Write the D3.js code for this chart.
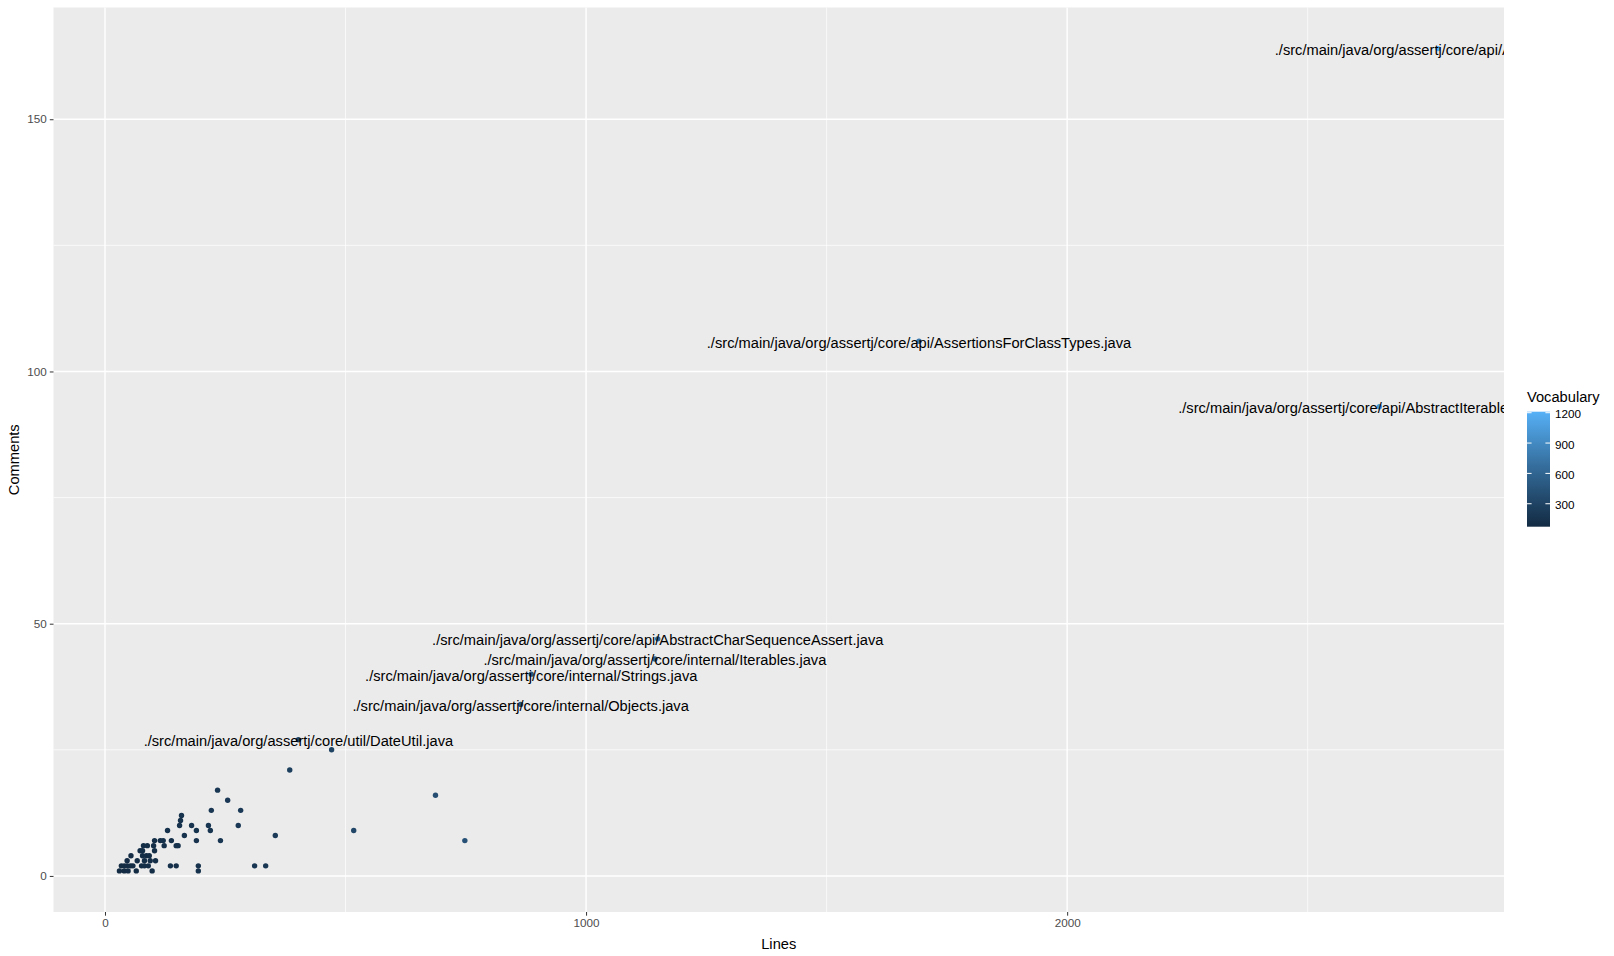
<!DOCTYPE html>
<html>
<head>
<meta charset="utf-8">
<script src="https://cdn.jsdelivr.net/npm/d3@7"></script>
<style>
  body { margin: 0; background: #fff; }
  text { font-family: "Liberation Sans", Arial, sans-serif; }
</style>
</head>
<body>
<svg id="chart"></svg>
<script>
// one entry per file: lines of code, comment count, vocabulary, label (only files with many comments)
const lines = [234, 255, 221, 282, 159, 157, 155, 180, 215, 277, 130, 190, 219, 354, 165,
  103, 115, 121, 138, 190, 240, 80, 88, 101, 123, 148, 152, 73, 78, 103,
  54, 78, 86, 92, 46, 67, 82, 94, 105, 34, 40, 46, 53, 58, 76,
  82, 90, 136, 148, 194, 311, 334, 30, 40, 48, 65, 98, 194, 471, 384,
  687, 517, 748,
  402, 864, 886, 1143, 1149, 1692, 2649, 2771];
const comments = [17, 15, 13, 13, 12, 11, 10, 10, 10, 10, 9, 9, 9, 8, 8,
  7, 7, 7, 7, 7, 7, 6, 6, 6, 6, 6, 6, 5, 5, 5,
  4, 4, 4, 4, 3, 3, 3, 3, 3, 2, 2, 2, 2, 2, 2,
  2, 2, 2, 2, 2, 2, 2, 1, 1, 1, 1, 1, 1, 25, 21,
  16, 9, 7,
  27, 34, 40, 43, 47, 106, 93, 164];
const vocab = [190, 200, 180, 210, 150, 145, 140, 160, 170, 200, 130, 155, 165, 230, 140,
  110, 115, 120, 125, 150, 175, 100, 105, 110, 120, 130, 135, 95, 100, 110,
  90, 100, 100, 105, 85, 95, 100, 105, 110, 80, 82, 85, 88, 90, 95,
  100, 100, 120, 125, 140, 170, 180, 73, 80, 85, 90, 100, 130, 300, 260,
  400, 330, 420,
  300, 460, 500, 540, 600, 760, 1040, 1210];
const files = new Array(63).fill("").concat([
  "./src/main/java/org/assertj/core/util/DateUtil.java",
  "./src/main/java/org/assertj/core/internal/Objects.java",
  "./src/main/java/org/assertj/core/internal/Strings.java",
  "./src/main/java/org/assertj/core/internal/Iterables.java",
  "./src/main/java/org/assertj/core/api/AbstractCharSequenceAssert.java",
  "./src/main/java/org/assertj/core/api/AssertionsForClassTypes.java",
  "./src/main/java/org/assertj/core/api/AbstractIterableAssert.java",
  "./src/main/java/org/assertj/core/api/Assertions.java"
]);

const xMajor = [0, 1000, 2000];
const xMinor = [500, 1500, 2500];
const yMajor = [0, 50, 100, 150];
const yMinor = [25, 75, 125];
const vocabTicks = [300, 600, 900, 1200];

const data = lines.map((d, i) => ({lines: d, comments: comments[i], vocab: vocab[i], file: files[i]}));

const W = 1614, H = 956;
const panel = {left: 53.5, top: 7.5, right: 1504, bottom: 912};

const svg = d3.select("#chart").attr("width", W).attr("height", H);

// ggplot style 5% expansion
function expand(ext) {
  const pad = (ext[1] - ext[0]) * 0.05;
  return [ext[0] - pad, ext[1] + pad];
}

const x = d3.scaleLinear()
  .domain(expand(d3.extent(data, d => d.lines)))
  .range([panel.left, panel.right]);
const y = d3.scaleLinear()
  .domain(expand(d3.extent(data, d => d.comments)))
  .range([panel.bottom, panel.top]);
const color = d3.scaleLinear()
  .domain(d3.extent(data, d => d.vocab))
  .range(["#132B43", "#56B1F7"])
  .interpolate(d3.interpolateLab);

svg.append("defs").append("clipPath")
  .attr("id", "clip-panel")
  .append("rect")
  .attr("x", panel.left).attr("y", panel.top)
  .attr("width", panel.right - panel.left)
  .attr("height", panel.bottom - panel.top);

svg.append("rect")
  .attr("x", panel.left).attr("y", panel.top)
  .attr("width", panel.right - panel.left)
  .attr("height", panel.bottom - panel.top)
  .attr("fill", "#EBEBEB");

const grid = svg.append("g").attr("stroke", "#fff");
grid.selectAll(".xmin").data(xMinor).enter().append("line")
  .attr("x1", d => x(d)).attr("x2", d => x(d))
  .attr("y1", panel.top).attr("y2", panel.bottom).attr("stroke-width", 0.7);
grid.selectAll(".ymin").data(yMinor).enter().append("line")
  .attr("y1", d => y(d)).attr("y2", d => y(d))
  .attr("x1", panel.left).attr("x2", panel.right).attr("stroke-width", 0.7);
grid.selectAll(".xmaj").data(xMajor).enter().append("line")
  .attr("x1", d => x(d)).attr("x2", d => x(d))
  .attr("y1", panel.top).attr("y2", panel.bottom).attr("stroke-width", 1.4);
grid.selectAll(".ymaj").data(yMajor).enter().append("line")
  .attr("y1", d => y(d)).attr("y2", d => y(d))
  .attr("x1", panel.left).attr("x2", panel.right).attr("stroke-width", 1.4);

// axes
const xAxis = d3.axisBottom(x).tickValues(xMajor).tickFormat(d3.format("d")).tickSize(3.7).tickPadding(3);
const yAxis = d3.axisLeft(y).tickValues(yMajor).tickFormat(d3.format("d")).tickSize(3.7).tickPadding(3);

svg.append("g")
  .attr("transform", `translate(0,${panel.bottom})`)
  .call(xAxis)
  .call(g => g.select(".domain").remove())
  .call(g => g.selectAll("line").attr("stroke", "#333").attr("stroke-width", 1))
  .call(g => g.selectAll("text").attr("fill", "#4D4D4D").style("font-size", "11.7px")
    .style("font-family", "Liberation Sans, Arial, sans-serif"));

svg.append("g")
  .attr("transform", `translate(${panel.left},0)`)
  .call(yAxis)
  .call(g => g.select(".domain").remove())
  .call(g => g.selectAll("line").attr("stroke", "#333").attr("stroke-width", 1))
  .call(g => g.selectAll("text").attr("fill", "#4D4D4D").style("font-size", "11.7px")
    .style("font-family", "Liberation Sans, Arial, sans-serif"));

svg.append("text")
  .attr("x", (panel.left + panel.right) / 2)
  .attr("y", 949)
  .attr("text-anchor", "middle")
  .style("font-size", "14.67px")
  .text("Lines");

svg.append("text")
  .attr("transform", `translate(19,${(panel.top + panel.bottom) / 2})rotate(-90)`)
  .attr("text-anchor", "middle")
  .style("font-size", "14.67px")
  .text("Comments");

// points and labels
const plot = svg.append("g").attr("clip-path", "url(#clip-panel)");

plot.selectAll("circle").data(data).enter().append("circle")
  .attr("cx", d => x(d.lines))
  .attr("cy", d => y(d.comments))
  .attr("r", 2.7)
  .attr("fill", d => color(d.vocab));

plot.selectAll(".lbl").data(data.filter(d => d.file !== "")).enter().append("text")
  .attr("class", "lbl")
  .attr("x", d => x(d.lines))
  .attr("y", d => y(d.comments))
  .attr("dy", "0.1em")
  .attr("text-anchor", "middle")
  .attr("dominant-baseline", "central")
  .style("font-size", "14.67px")
  .attr("fill", "#000")
  .text(d => d.file);

// colour bar legend
const barX = 1527, barW = 23, barTop = 411.7, barBottom = 526.7;
const legendY = d3.scaleLinear().domain(color.domain()).range([barBottom, barTop]);

const grad = svg.select("defs").append("linearGradient")
  .attr("id", "vocab-grad")
  .attr("x1", 0).attr("y1", 1).attr("x2", 0).attr("y2", 0);
d3.range(0, 1.0001, 0.1).forEach(t => {
  grad.append("stop")
    .attr("offset", t)
    .attr("stop-color", color(color.domain()[0] + t * (color.domain()[1] - color.domain()[0])));
});

svg.append("text")
  .attr("x", barX)
  .attr("y", 402)
  .style("font-size", "14.67px")
  .text("Vocabulary");

svg.append("rect")
  .attr("x", barX).attr("y", barTop)
  .attr("width", barW).attr("height", barBottom - barTop)
  .attr("fill", "url(#vocab-grad)");

const lt = svg.append("g");
vocabTicks.forEach(v => {
  lt.append("line")
    .attr("x1", barX).attr("x2", barX + barW / 5)
    .attr("y1", legendY(v)).attr("y2", legendY(v))
    .attr("stroke", "#fff").attr("stroke-width", 1);
  lt.append("line")
    .attr("x1", barX + barW - barW / 5).attr("x2", barX + barW)
    .attr("y1", legendY(v)).attr("y2", legendY(v))
    .attr("stroke", "#fff").attr("stroke-width", 1);
  lt.append("text")
    .attr("x", barX + barW + 5)
    .attr("y", legendY(v))
    .attr("dy", "0.1em")
    .attr("dominant-baseline", "central")
    .attr("fill", "#000")
    .style("font-size", "11.7px")
    .text(v);
});
</script>
</body>
</html>
